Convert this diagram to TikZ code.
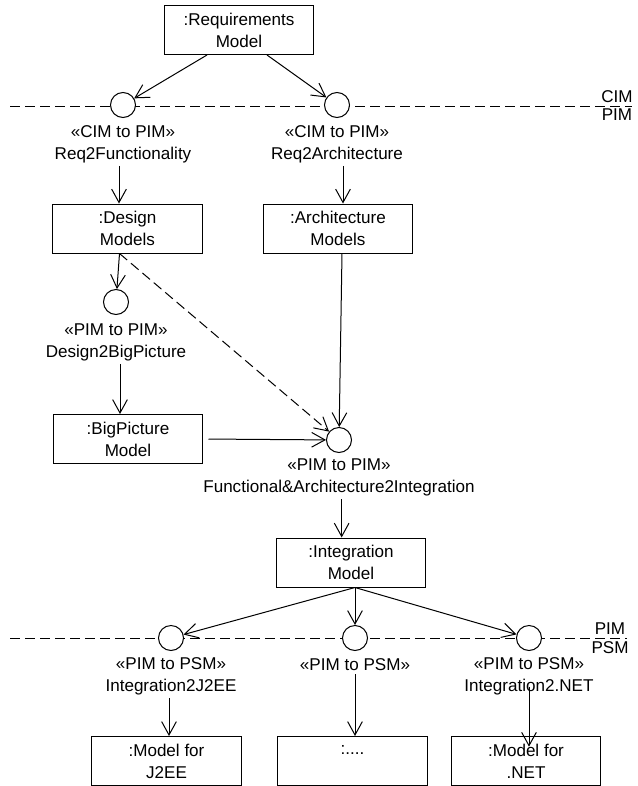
\documentclass[tikz,border=0pt]{standalone}
\usepackage{fontspec}
\setmainfont{Liberation Sans}
\usetikzlibrary{arrows.meta}

\begin{document}
\begin{tikzpicture}[x=0.75pt,y=-0.75pt,line width=0.75pt,
    font=\fontsize{12.8}{16.5}\selectfont,
    model/.style={draw,fill=white,align=center,minimum width=112pt,minimum height=36.75pt,inner sep=1pt},
    trafo/.style={draw,circle,fill=white,minimum size=18.75pt,inner sep=0pt},
    trafolabel/.style={align=center,inner sep=2pt},
    flow/.style={-{Straight Barb[length=10pt,width=11pt]}},
    level/.style={dash pattern=on 7.5pt off 3.75pt}]
    \useasboundingbox (0,0) rectangle (637,786);

    % level borders
    \coordinate (cimL) at (10,106);
    \coordinate (cimR) at (632,106);
    \coordinate (psmL) at (10,638);
    \coordinate (psmR) at (627,638);
    \draw[level] (cimL) -- (cimR);
    \draw[level] (psmL) -- (psmR);
    \node[anchor=south,inner sep=2pt] (cim) at (617,106) {CIM};
    \node[anchor=north,inner sep=2pt] (pim) at (617,106) {PIM};
    \node[anchor=south,inner sep=2pt] (pim2) at (610,638) {PIM};
    \node[anchor=north,inner sep=2pt] (psm) at (610,638) {PSM};

    \node[model] (req) at (239,30) {:Requirements\\Model};
    \node[trafo] (fun) at (123,105) {};
    \node[trafo] (arc) at (337,105) {};
    \node[trafolabel] (funl) at (123,144) {«CIM to PIM»\\Req2Functionality};
    \node[trafolabel] (arcl) at (337,144) {«CIM to PIM»\\Req2Architecture};
    \node[model] (des) at (127.5,228.5) {:Design\\Models};
    \node[model] (arm) at (338,228.5) {:Architecture\\Models};
    \node[trafo] (big) at (116,302) {};
    \node[trafolabel] (bigl) at (116,342) {«PIM to PIM»\\Design2BigPicture};
    \node[model] (bpm) at (128,439) {:BigPicture\\Model};
    \node[trafo] (int) at (339,440) {};
    \node[trafolabel] (intl) at (339,477.5) {«PIM to PIM»\\Functional\&Architecture2Integration};
    \node[model] (inm) at (351,562.5) {:Integration\\Model};
    \node[trafo] (jee) at (171,638) {};
    \node[trafo] (oth) at (355,638) {};
    \node[trafo] (net) at (529,638) {};
    \node[trafolabel] (jeel) at (171,676) {«PIM to PSM»\\Integration2J2EE};
    \node[trafolabel] (othl) at (355,665) {«PIM to PSM»};
    \node[trafolabel] (netl) at (529,676) {«PIM to PSM»\\Integration2.NET};
    \node[model] (mj) at (166.5,761) {:Model for\\J2EE};
    \node[model] (mo) at (352.5,761) {:....\\~};
    \node[model] (mn) at (526,761) {:Model for\\.NET};

    % CIM to PIM
    \draw[flow] ([xshift=-24pt]req.south) -- (fun);
    \draw[flow] ([xshift=21pt]req.south) -- (arc);
    \draw[flow] ([xshift=-3pt]funl.south) -- ([xshift=-3pt]funl.south |- des.north);
    \draw[flow] ([xshift=4.5pt]arcl.south) -- ([xshift=4.5pt]arcl.south |- arm.north);
    % PIM to PIM
    \draw[flow] ([xshift=-6pt]des.south) -- (big);
    \draw[flow,level] ([xshift=-6pt]des.south) -- (int);
    \draw[flow] ([xshift=3pt]bigl.south) -- ([xshift=3pt]bigl.south |- bpm.north);
    \draw[flow,shorten <=4pt] (bpm.east) -- (int);
    \draw[flow] ([xshift=3pt]arm.south) -- (int);
    \draw[flow] ([xshift=2pt]intl.south) -- ([xshift=2pt]intl.south |- inm.north);
    % PIM to PSM
    \draw[flow] ([xshift=3pt]inm.south) -- (jee);
    \draw[flow] ([xshift=3pt]inm.south) -- (oth);
    \draw[flow] ([xshift=3pt]inm.south) -- (net);
    \draw[flow] ([xshift=-1.5pt]jeel.south) -- ([xshift=-1.5pt]jeel.south |- mj.north);
    \draw[flow] (othl.south) -- (othl.south |- mo.north);
    \draw[flow] ([yshift=-8pt]netl.center) -- ([yshift=-8pt]netl.center |- mn.north);
\end{tikzpicture}
\end{document}
